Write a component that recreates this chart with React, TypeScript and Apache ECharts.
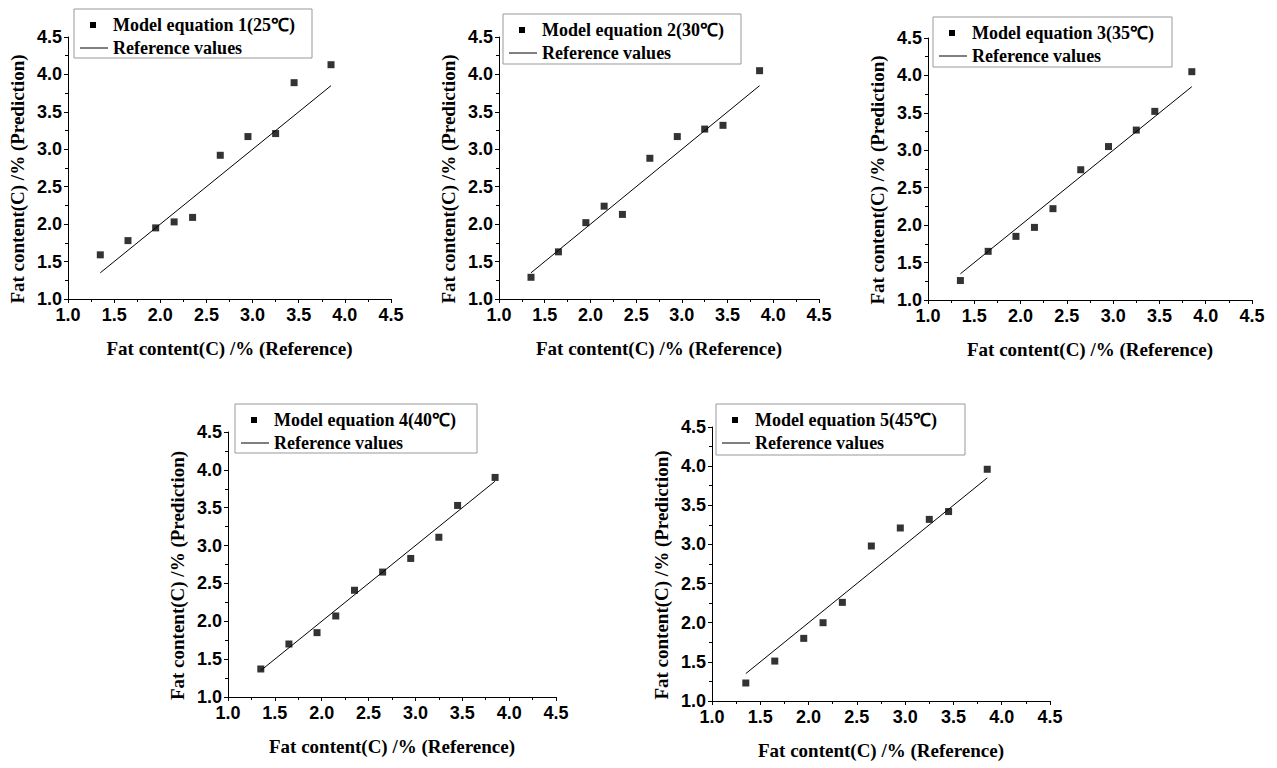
import React, { useEffect, useRef } from "react";
import * as echarts from "echarts";

// ---- data ----
const xReference = [1.35, 1.65, 1.95, 2.15, 2.35, 2.65, 2.95, 3.25, 3.45, 3.85];
const pred25 = [1.59, 1.78, 1.95, 2.03, 2.09, 2.92, 3.17, 3.21, 3.89, 4.13];
const pred30 = [1.29, 1.63, 2.02, 2.24, 2.13, 2.88, 3.17, 3.27, 3.32, 4.05];
const pred35 = [1.26, 1.65, 1.85, 1.97, 2.22, 2.74, 3.05, 3.27, 3.52, 4.05];
const pred40 = [1.37, 1.7, 1.85, 2.07, 2.41, 2.65, 2.83, 3.11, 3.53, 3.9];
const pred45 = [1.23, 1.51, 1.8, 2.0, 2.26, 2.98, 3.21, 3.32, 3.42, 3.96];
const predictions = [pred25, pred30, pred35, pred40, pred45];
const modelNames = [
  "Model equation 1(25℃)",
  "Model equation 2(30℃)",
  "Model equation 3(35℃)",
  "Model equation 4(40℃)",
  "Model equation 5(45℃)",
];
const referenceName = "Reference values";
const referenceLineX = [1.35, 3.85];
const referenceLineY = [1.35, 3.85];
const axisMin = 1.0;
const axisMax = 4.5;
const axisInterval = 0.5;
const xAxisTitle = "Fat content(C) /% (Reference)";
const yAxisTitle = "Fat content(C) /% (Prediction)";

// ---- layout ----
const grids = [
  { left: 68, top: 37, width: 323, height: 262 },
  { left: 499, top: 37, width: 320, height: 262 },
  { left: 928, top: 38, width: 324, height: 262 },
  { left: 228, top: 432, width: 328, height: 265 },
  { left: 712, top: 427, width: 338, height: 274 },
];
const legendBoxes = [
  { x: 74, y: 9, w: 238, h: 49 },
  { x: 503, y: 14, w: 238, h: 50 },
  { x: 933, y: 17, w: 239, h: 50 },
  { x: 235, y: 404, w: 242, h: 49 },
  { x: 716, y: 404, w: 249, h: 51 },
];

const serif = "Liberation Serif";
const sans = "Liberation Sans";

export default function App() {
  const ref = useRef<HTMLDivElement>(null);
  useEffect(() => {
    if (!ref.current) return;
    const chart = echarts.init(ref.current, null, { renderer: "svg" });

    const common = {
      type: "value",
      min: axisMin,
      max: axisMax,
      interval: axisInterval,
      nameLocation: "middle",
      nameGap: 40,
      axisLine: { show: true, lineStyle: { color: "#000", width: 1 } },
      axisTick: { show: true, inside: false, length: 4, lineStyle: { color: "#000" } },
      minorTick: { show: true, splitNumber: 2, length: 3, lineStyle: { color: "#000" } },
      splitLine: { show: false },
    };
    const titleStyle = { fontFamily: serif, fontWeight: "bold", fontSize: 19, color: "#000" };
    const labelStyle = {
      fontFamily: sans,
      fontWeight: "bold",
      fontSize: 18,
      color: "#000",
      formatter: (v: number) => v.toFixed(1),
    };
    const xAxes = grids.map((_, i) => ({
      ...common,
      gridIndex: i,
      name: xAxisTitle,
      nameTextStyle: titleStyle,
      axisLabel: { ...labelStyle, margin: 7 },
    }));
    const yAxes = grids.map((_, i) => ({
      ...common,
      gridIndex: i,
      name: yAxisTitle,
      nameGap: 41,
      nameTextStyle: { ...titleStyle, padding: [0, 22, 0, 0] },
      axisLabel: { ...labelStyle, margin: 6 },
    }));

    const series: any[] = [];
    predictions.forEach((pred, i) => {
      series.push({
        type: "line",
        name: referenceName,
        xAxisIndex: i,
        yAxisIndex: i,
        data: referenceLineX.map((x, k) => [x, referenceLineY[k]]),
        showSymbol: false,
        symbol: "none",
        lineStyle: { color: "#000", width: 1 },
        z: 2,
      });
      series.push({
        type: "scatter",
        name: modelNames[i],
        xAxisIndex: i,
        yAxisIndex: i,
        data: xReference.map((x, k) => [x, pred[k]]),
        symbol: "rect",
        symbolSize: 7,
        itemStyle: { color: "#000" },
        z: 3,
      });
    });

    const graphic = legendBoxes.map((b, i) => ({
      type: "group",
      x: b.x,
      y: b.y,
      z: 100,
      children: [
        {
          type: "rect",
          shape: { x: 0, y: 0, width: b.w, height: b.h },
          style: { fill: "#fff", stroke: "#999", lineWidth: 1 },
        },
        {
          type: "rect",
          shape: { x: 16, y: 13, width: 6, height: 6 },
          style: { fill: "#000" },
        },
        {
          type: "line",
          shape: { x1: 6, y1: 39, x2: 34, y2: 39 },
          style: { stroke: "#000", lineWidth: 1 },
        },
        {
          type: "text",
          x: 39,
          y: 16,
          style: {
            text: modelNames[i],
            fontFamily: serif,
            fontWeight: "bold",
            fontSize: 18,
            fill: "#000",
            verticalAlign: "middle",
          },
        },
        {
          type: "text",
          x: 39,
          y: 39,
          style: {
            text: referenceName,
            fontFamily: serif,
            fontWeight: "bold",
            fontSize: 18,
            fill: "#000",
            verticalAlign: "middle",
          },
        },
      ],
    }));

    chart.setOption({
      animation: false,
      backgroundColor: "#fff",
      grid: grids.map((g) => ({ ...g, containLabel: false })),
      xAxis: xAxes,
      yAxis: yAxes,
      series,
      graphic,
    });
    return () => chart.dispose();
  }, []);
  return (
    <div
      ref={ref}
      style={{ position: "absolute", left: 0, top: 0, width: 1277, height: 768 }}
    />
  );
}
